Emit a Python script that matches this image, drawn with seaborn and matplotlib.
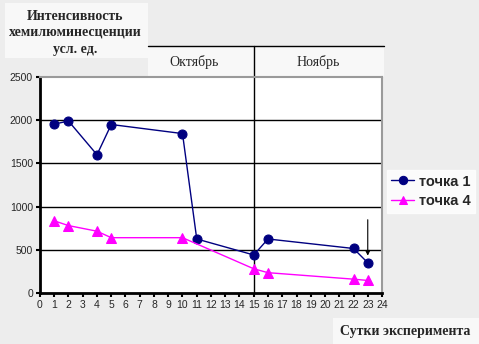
import numpy as np
import pandas as pd
import seaborn as sns
import matplotlib.pyplot as plt
from matplotlib.patches import Rectangle

# Experiment days and chemiluminescence intensity (arb. units)
days_p1 = [1, 2, 4, 5, 10, 11, 15, 16, 22, 23]
vals_p1 = [1955, 1990, 1600, 1950, 1845, 625, 440, 625, 515, 350]
days_p4 = [1, 2, 4, 5, 10, 15, 16, 22, 23]
vals_p4 = [835, 780, 715, 640, 640, 280, 235, 160, 145]
series_names = ["точка 1", "точка 4"]
x_ticks = list(range(0, 25))
y_ticks = [0, 500, 1000, 1500, 2000, 2500]
month_labels = ["Октябрь", "Ноябрь"]
month_split = 15

df = pd.concat([
    pd.DataFrame({"day": days_p1, "val": vals_p1, "series": series_names[0]}),
    pd.DataFrame({"day": days_p4, "val": vals_p4, "series": series_names[1]}),
])

sns.set_style("white")
plt.rcParams["font.family"] = ["Liberation Sans", "DejaVu Sans"]

fig = plt.figure(figsize=(4.79, 3.44), dpi=100, facecolor="#ededed")
ax = fig.add_axes([0.0835, 0.1483, 0.7140, 0.6279])
ax.set_facecolor("white")

# light panels behind title, header and axis caption
for (x0, y0, w, h) in [(5, 3, 143, 55), (148, 46, 236, 31), (333, 318, 146, 26)]:
    fig.patches.append(Rectangle((x0 / 479, 1 - (y0 + h) / 344), w / 479, h / 344,
                                 transform=fig.transFigure, facecolor="#f8f8f8",
                                 edgecolor="none", zorder=-1))

palette = {series_names[0]: "#000080", series_names[1]: "#ff00ff"}
markers = {series_names[0]: "o", series_names[1]: "^"}
msizes = {series_names[0]: 6.5, series_names[1]: 7.5}

for name, sub in df.groupby("series", sort=False):
    sns.lineplot(data=sub, x="day", y="val", ax=ax, color=palette[name],
                 marker=markers[name], markersize=msizes[name], linewidth=1,
                 markeredgecolor=palette[name], label=name, zorder=3)

ax.set_xlim(0, 24)
ax.set_ylim(0, 2500)
ax.set_xticks(x_ticks)
ax.set_yticks(y_ticks)
ax.tick_params(axis="both", labelsize=7.5, length=3, width=1.5, color="black",
               direction="out", pad=2, bottom=True, left=True)
ax.set_xlabel("")
ax.set_ylabel("")

for yv in y_ticks[1:-1]:
    ax.axhline(yv, color="black", lw=1, zorder=1)

for side in ["left", "bottom"]:
    ax.spines[side].set_color("black")
    ax.spines[side].set_linewidth(2)
for side in ["top", "right"]:
    ax.spines[side].set_color("#9a9a9a")
    ax.spines[side].set_linewidth(1.5)

# month separator and header band
ax.axvline(month_split, ymin=0, ymax=1.145, color="black", lw=1, clip_on=False, zorder=2)
ax.plot([0.316, 1.005], [1.145, 1.145], transform=ax.transAxes, color="black",
        lw=1, clip_on=False)
ax.text(0.45, 1.07, month_labels[0], transform=ax.transAxes, ha="center",
        va="center", fontsize=10, family=["Liberation Serif"])
ax.text(0.813, 1.07, month_labels[1], transform=ax.transAxes, ha="center",
        va="center", fontsize=10, family=["Liberation Serif"])

# arrow marking the last measurement
ax.annotate("", xy=(23, 400), xytext=(23, 880),
            arrowprops=dict(arrowstyle="-|>", color="black", lw=0.8,
                            mutation_scale=7))

title_lines = ["Интенсивность", "хемилюминесценции", "усл. ед."]
for i, line in enumerate(title_lines):
    fig.text(75 / 479, 1 - (16 + 16.5 * i) / 344, line, ha="center", va="center",
             fontsize=10, fontweight="bold", family=["Liberation Serif"])
fig.text(405 / 479, 1 - 332 / 344, "Сутки эксперимента", ha="center",
         va="center", fontsize=10, fontweight="bold",
         family=["Liberation Serif"])

leg = ax.legend(loc="center left", bbox_to_anchor=(1.005, 0.47), frameon=True,
                fancybox=False, edgecolor="white", facecolor="white",
                prop={"weight": "bold", "size": 10.5}, handlelength=1.6,
                handletextpad=0.3, borderpad=0.3, labelspacing=0.4,
                borderaxespad=0.2)
for h in leg.legend_handles:
    h.set_markersize(6)

fig.savefig("out.png", dpi=100, facecolor=fig.get_facecolor())
